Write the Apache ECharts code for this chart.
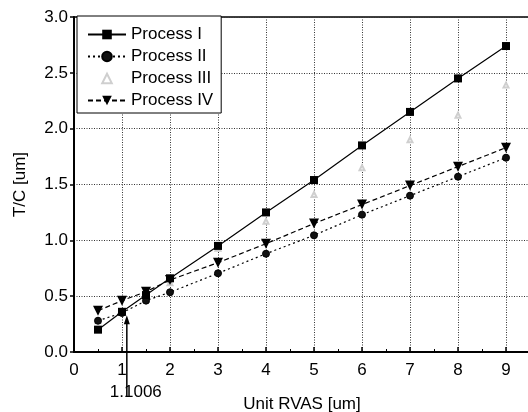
<!DOCTYPE html>
<html>
<head>
<meta charset="utf-8">
<script src="https://cdn.jsdelivr.net/npm/echarts@6/dist/echarts.min.js"></script>
<style>
  html, body { margin: 0; padding: 0; background: #fff; }
  #chart { width: 528px; height: 412px; }
</style>
</head>
<body>
<div id="chart"></div>
<script>
// Unit RVAS [um] vs T/C [um]
const xVals = [0.5, 1, 1.5, 2, 3, 4, 5, 6, 7, 8, 9];
const process1 = [0.20, 0.36, 0.51, 0.66, 0.95, 1.25, 1.54, 1.85, 2.15, 2.45, 2.74];
const process2 = [0.28, 0.35, 0.46, 0.535, 0.705, 0.88, 1.045, 1.23, 1.40, 1.57, 1.74];
const process3 = [0.28, 0.36, 0.47, 0.62, 0.93, 1.17, 1.41, 1.65, 1.90, 2.12, 2.39];
const process4 = [0.37, 0.46, 0.54, 0.645, 0.80, 0.97, 1.15, 1.32, 1.49, 1.66, 1.83];
const seriesNames = ['Process I', 'Process II', 'Process III', 'Process IV'];
const markX = 1.1006;   // arrow annotation
const markTopY = 0.33;
const markBottomY = -0.4;

const font = 'Liberation Sans, Arial, sans-serif';

function pairs(ys) {
  return xVals.map((x, i) => [x, ys[i]]);
}

const myChart = echarts.init(document.getElementById('chart'));

myChart.setOption({
  backgroundColor: '#fff',
  animation: false,
  textStyle: { fontFamily: font, color: '#000' },
  grid: {
    left: 74, top: 17, width: 456, height: 335,
    outerBoundsMode: 'none', containLabel: false,
    show: true, borderColor: '#000', borderWidth: 1.5, backgroundColor: 'transparent'
  },
  legend: {
    orient: 'vertical',
    left: 77, top: 16,
    padding: [10, 8, 4, 10],
    itemWidth: 38, itemHeight: 12, itemGap: 5,
    backgroundColor: '#fff',
    borderColor: '#000', borderWidth: 1, borderRadius: 0,
    textStyle: { fontSize: 17, lineHeight: 16, color: '#000', fontFamily: font },
    data: seriesNames
  },
  xAxis: {
    type: 'value',
    min: 0, max: 9.5, interval: 1,
    name: 'Unit RVAS [um]',
    nameLocation: 'middle',
    nameGap: 44,
    nameTextStyle: { fontSize: 17, color: '#000', fontFamily: font },
    axisLine: { lineStyle: { color: '#000', width: 2 } },
    axisTick: { inside: true, length: 5, lineStyle: { color: '#000', width: 1.5 } },
    minorTick: { show: true, splitNumber: 2, length: 3, lineStyle: { color: '#000' } },
    axisLabel: {
      fontSize: 17, color: '#000', margin: 10, showMaxLabel: false,
      formatter: v => (Number.isInteger(v) ? String(v) : '')
    },
    splitLine: { show: true, lineStyle: { color: '#333', type: [1, 1.5], width: 1 } }
  },
  yAxis: {
    type: 'value',
    min: 0, max: 3, interval: 0.5,
    name: 'T/C [um]',
    nameLocation: 'middle',
    nameGap: 45,
    nameTextStyle: { fontSize: 17, color: '#000', fontFamily: font },
    axisLine: { lineStyle: { color: '#000', width: 2 } },
    axisTick: { inside: false, length: 4, lineStyle: { color: '#000', width: 1.5 } },
    axisLabel: { fontSize: 17, color: '#000', margin: 6, formatter: v => v.toFixed(1) },
    splitLine: { show: true, lineStyle: { color: '#333', type: [1, 1.5], width: 1 } }
  },
  series: [
    {
      name: seriesNames[0],
      type: 'line',
      data: pairs(process1),
      symbol: 'rect', symbolSize: 8,
      itemStyle: { color: '#000' },
      lineStyle: { color: '#000', width: 1.2, type: 'solid' },
      z: 4
    },
    {
      name: seriesNames[1],
      type: 'line',
      data: pairs(process2),
      symbol: 'circle', symbolSize: 7,
      itemStyle: { color: '#111', borderColor: '#000', borderWidth: 1 },
      lineStyle: { color: '#000', width: 1.2, type: [2, 3] },
      z: 3
    },
    {
      name: seriesNames[2],
      type: 'line',
      data: pairs(process3),
      symbol: 'emptyTriangle', symbolSize: 5,
      itemStyle: { color: '#cfcfcf', borderWidth: 1 },
      lineStyle: { width: 0, opacity: 0 },
      z: 2
    },
    {
      name: seriesNames[3],
      type: 'line',
      data: pairs(process4),
      symbol: 'triangle', symbolSize: 10, symbolRotate: 180,
      itemStyle: { color: '#000' },
      lineStyle: { color: '#000', width: 1.2, type: [5, 3] },
      z: 3
    }
  ]
});

// arrow pointing up to x = 1.1006, drawn from the chart's own scale
const arrowTop = myChart.convertToPixel({ gridIndex: 0 }, [markX, markTopY]);
const arrowBottom = myChart.convertToPixel({ gridIndex: 0 }, [markX, markBottomY]);
myChart.setOption({
  graphic: [
    {
      type: 'line',
      shape: { x1: arrowTop[0], y1: arrowTop[1] + 4, x2: arrowBottom[0], y2: arrowBottom[1] },
      style: { stroke: '#000', lineWidth: 1.5 },
      z: 20
    },
    {
      type: 'polygon',
      shape: { points: [[arrowTop[0], arrowTop[1]], [arrowTop[0] - 3, arrowTop[1] + 9], [arrowTop[0] + 3, arrowTop[1] + 9]] },
      style: { fill: '#000' },
      z: 20
    },
    {
      type: 'text',
      x: arrowTop[0] + 9, y: arrowBottom[1] - 4,
      style: {
        text: String(markX), fill: '#000', fontSize: 17, fontFamily: font,
        align: 'center', verticalAlign: 'middle'
      },
      z: 20
    }
  ]
});
</script>
</body>
</html>
